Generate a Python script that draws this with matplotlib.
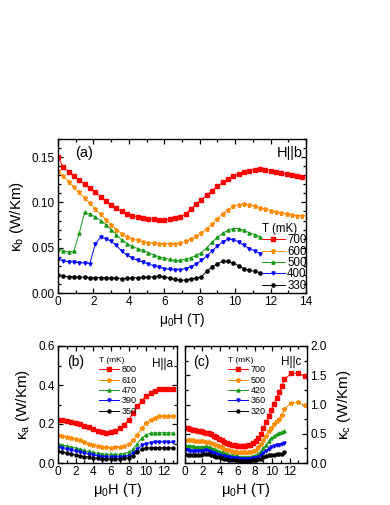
import matplotlib
matplotlib.use("Agg")
import matplotlib.pyplot as plt
from matplotlib.ticker import MultipleLocator

plt.rcParams['font.family'] = ['Liberation Sans', 'DejaVu Sans']
plt.rcParams['mathtext.fontset'] = 'custom'
plt.rcParams['mathtext.rm'] = 'Liberation Sans'
plt.rcParams['mathtext.it'] = 'Liberation Sans:italic'

# ---------------- data: panel (a)  H || b ----------------
Ha_long = [0.0, 0.3, 0.6, 0.9, 1.2, 1.5, 1.8, 2.1, 2.4, 2.7, 3.0, 3.3, 3.6, 3.9, 4.2, 4.5,
           4.8, 5.1, 5.4, 5.7, 6.0, 6.3, 6.6, 6.9, 7.2, 7.5, 7.8, 8.1, 8.4, 8.7, 9.0, 9.3,
           9.6, 9.9, 10.2, 10.5, 10.8, 11.1, 11.4, 11.7, 12.0, 12.3, 12.6, 12.9, 13.2, 13.5, 13.8]
Ha_short = Ha_long[:39]

ka_700 = [0.150, 0.139, 0.134, 0.129, 0.1245, 0.120, 0.1155, 0.111, 0.1065, 0.102, 0.0975,
          0.0935, 0.090, 0.0875, 0.0855, 0.084, 0.083, 0.082, 0.0813, 0.081, 0.081, 0.0815,
          0.0825, 0.084, 0.0875, 0.0925, 0.098, 0.103, 0.108, 0.113, 0.118, 0.122, 0.126,
          0.129, 0.1315, 0.1335, 0.135, 0.136, 0.1365, 0.136, 0.135, 0.134, 0.1325, 0.131,
          0.130, 0.129, 0.128]
ka_600 = [0.135, 0.129, 0.123, 0.117, 0.111, 0.105, 0.099, 0.093, 0.087, 0.081, 0.0755,
          0.070, 0.0655, 0.062, 0.0595, 0.058, 0.0565, 0.0555, 0.055, 0.0545, 0.054, 0.054,
          0.054, 0.055, 0.057, 0.0595, 0.0625, 0.0665, 0.071, 0.0765, 0.082, 0.0875, 0.092,
          0.0955, 0.0975, 0.098, 0.097, 0.0955, 0.094, 0.0925, 0.091, 0.089, 0.088, 0.087,
          0.086, 0.0855, 0.085]
ka_500 = [0.049, 0.0465, 0.0455, 0.046, 0.066, 0.089, 0.087, 0.084, 0.080, 0.0755, 0.070,
          0.0645, 0.0585, 0.0545, 0.0515, 0.049, 0.047, 0.0445, 0.042, 0.040, 0.0385, 0.037,
          0.036, 0.036, 0.0375, 0.039, 0.0415, 0.0445, 0.050, 0.056, 0.0615, 0.066, 0.0695,
          0.0712, 0.0712, 0.069, 0.0665, 0.0645, 0.062]
ka_400 = [0.0375, 0.0355, 0.0345, 0.034, 0.0335, 0.033, 0.0325, 0.054, 0.0615, 0.060, 0.057,
          0.0525, 0.046, 0.042, 0.0385, 0.036, 0.034, 0.032, 0.030, 0.0285, 0.027, 0.026,
          0.0255, 0.0255, 0.027, 0.029, 0.032, 0.036, 0.041, 0.0465, 0.052, 0.0565, 0.0595,
          0.0585, 0.0565, 0.0525, 0.049, 0.0465, 0.0435]
ka_330 = [0.0196, 0.0185, 0.018, 0.018, 0.0175, 0.0175, 0.017, 0.017, 0.017, 0.0168, 0.0165,
          0.0165, 0.016, 0.0162, 0.0168, 0.017, 0.0172, 0.0175, 0.018, 0.0188, 0.018, 0.0162,
          0.015, 0.014, 0.0143, 0.0155, 0.0165, 0.018, 0.024, 0.029, 0.032, 0.0352, 0.035,
          0.033, 0.030, 0.027, 0.025, 0.024, 0.0225]

# ---------------- data: panel (b)  H || a ----------------
Hb = [0.0, 0.5, 1.0, 1.5, 2.0, 2.5, 3.0, 3.5, 4.0, 4.5, 5.0, 5.5, 6.0, 6.5, 7.0, 7.5, 8.0,
      8.5, 9.0, 9.5, 10.0, 10.5, 11.0, 11.5, 12.0, 12.5, 13.0]
kb_800 = [0.222, 0.220, 0.216, 0.212, 0.207, 0.200, 0.192, 0.183, 0.174, 0.165, 0.158, 0.155,
          0.158, 0.166, 0.178, 0.195, 0.220, 0.255, 0.290, 0.320, 0.342, 0.358, 0.370, 0.377,
          0.380, 0.381, 0.380]
kb_610 = [0.145, 0.140, 0.135, 0.129, 0.123, 0.116, 0.108, 0.100, 0.093, 0.087, 0.083, 0.080,
          0.079, 0.080, 0.082, 0.087, 0.097, 0.116, 0.146, 0.178, 0.205, 0.222, 0.233, 0.239,
          0.241, 0.241, 0.240]
kb_470 = [0.097, 0.092, 0.087, 0.082, 0.077, 0.071, 0.065, 0.059, 0.054, 0.050, 0.047, 0.045,
          0.044, 0.044, 0.045, 0.048, 0.055, 0.070, 0.100, 0.128, 0.145, 0.152, 0.155, 0.155,
          0.155, 0.155, 0.154]
kb_390 = [0.080, 0.075, 0.070, 0.065, 0.060, 0.055, 0.050, 0.045, 0.040, 0.036, 0.033, 0.031,
          0.030, 0.030, 0.031, 0.033, 0.038, 0.050, 0.070, 0.090, 0.100, 0.105, 0.107, 0.107,
          0.107, 0.107, 0.106]
kb_350 = [0.060, 0.055, 0.050, 0.045, 0.041, 0.037, 0.033, 0.030, 0.027, 0.025, 0.023, 0.022,
          0.021, 0.021, 0.022, 0.024, 0.028, 0.038, 0.055, 0.070, 0.076, 0.078, 0.078, 0.078,
          0.078, 0.078, 0.077]

# ---------------- data: panel (c)  H || c ----------------
Hc_short = Ha_short
Hc_long = Ha_short + [12.2, 13.0, 13.8]
kc_700 = [0.60, 0.59, 0.58, 0.57, 0.56, 0.55, 0.54, 0.53, 0.52, 0.51, 0.49, 0.465, 0.44,
          0.415, 0.39, 0.365, 0.345, 0.325, 0.31, 0.30, 0.295, 0.29, 0.29, 0.295, 0.30, 0.315,
          0.34, 0.38, 0.43, 0.50, 0.59, 0.70, 0.81, 0.91, 1.01, 1.11, 1.21, 1.31, 1.43,
          1.53, 1.535, 1.48]
kc_500 = [0.40, 0.395, 0.39, 0.385, 0.38, 0.375, 0.37, 0.37, 0.365, 0.36, 0.345, 0.325, 0.305,
          0.285, 0.265, 0.245, 0.23, 0.215, 0.205, 0.195, 0.19, 0.185, 0.18, 0.18, 0.185, 0.19,
          0.205, 0.23, 0.27, 0.33, 0.40, 0.47, 0.54, 0.60, 0.66, 0.71, 0.76, 0.82, 0.92,
          1.03, 1.035, 0.985]
kc_420 = [0.30, 0.295, 0.29, 0.285, 0.28, 0.275, 0.275, 0.28, 0.285, 0.28, 0.26, 0.24, 0.22,
          0.20, 0.18, 0.165, 0.15, 0.14, 0.13, 0.12, 0.115, 0.11, 0.105, 0.105, 0.105, 0.11,
          0.12, 0.135, 0.16, 0.20, 0.25, 0.31, 0.37, 0.42, 0.46, 0.49, 0.515, 0.53, 0.54]
kc_360 = [0.22, 0.215, 0.21, 0.205, 0.20, 0.20, 0.205, 0.21, 0.215, 0.205, 0.19, 0.17, 0.155,
          0.14, 0.125, 0.115, 0.105, 0.095, 0.09, 0.085, 0.08, 0.075, 0.072, 0.07, 0.07, 0.072,
          0.078, 0.09, 0.105, 0.13, 0.165, 0.205, 0.24, 0.27, 0.29, 0.305, 0.315, 0.325, 0.335]
kc_320 = [0.15, 0.145, 0.14, 0.135, 0.135, 0.135, 0.14, 0.15, 0.16, 0.155, 0.14, 0.12, 0.105,
          0.095, 0.085, 0.075, 0.065, 0.058, 0.052, 0.048, 0.045, 0.042, 0.04, 0.04, 0.04,
          0.042, 0.046, 0.052, 0.06, 0.075, 0.095, 0.115, 0.13, 0.14, 0.145, 0.15, 0.155,
          0.16, 0.18]

labels_a = ['700', '600', '500', '400', '330']
labels_b = ['800', '610', '470', '390', '350']
labels_c = ['700', '500', '420', '360', '320']

colors = ['#ff0000', '#ff8c00', '#1a9a1a', '#0000ff', '#000000']
markers = ['s', '*', '^', 'v', 'o']

fig = plt.figure(figsize=(3.9, 5.05), dpi=100)
W, Hh = 390.0, 505.0
def box(l, t, r, b):
    return [l / W, 1 - b / Hh, (r - l) / W, (b - t) / Hh]

axA = fig.add_axes(box(58, 139, 306, 293))
axB = fig.add_axes(box(58, 346, 177, 463))
axC = fig.add_axes(box(185, 346, 307, 463))

def style(ax, fs=8.5):
    ax.tick_params(which='both', direction='in', top=True, right=True, labelsize=fs, width=0.9)
    ax.tick_params(which='major', length=3.5, pad=2.5)
    ax.tick_params(which='minor', length=2)
    for s in ax.spines.values():
        s.set_linewidth(1.0)

# panel (a)
seriesA = [(Ha_long, ka_700), (Ha_long, ka_600), (Ha_short, ka_500), (Ha_short, ka_400), (Ha_short, ka_330)]
for (x, y), c, m, lab in zip(seriesA, colors, markers, labels_a):
    ms = 3.6 if m == '*' else 2.3
    axA.plot(x, y, color=c, marker=m, ms=ms, lw=0.7, label=lab, mec=c)
axA.set_xlim(0, 14)
axA.set_ylim(0, 0.17)
axA.xaxis.set_major_locator(MultipleLocator(2))
axA.xaxis.set_minor_locator(MultipleLocator(1))
axA.yaxis.set_minor_locator(MultipleLocator(0.01))
axA.set_yticks([0, 0.05, 0.10, 0.15])
axA.set_yticklabels(['0.00', '0.05', '0.10', '0.15'])
style(axA)
axA.set_xlabel('μ$_\\mathregular{0}$H (T)', fontsize=10, labelpad=2)
axA.set_ylabel('κ$_\\mathregular{b}$ (W/Km)', fontsize=11, labelpad=4)
axA.text(0.07, 0.91, '(a)', transform=axA.transAxes, fontsize=10.5, va='center', ha='left')
axA.text(0.985, 0.91, 'H||b', transform=axA.transAxes, fontsize=10.5, va='center', ha='right')
axA.legend(title='T (mK)', loc='lower right', bbox_to_anchor=(1.035, -0.045), frameon=False,
           fontsize=8.3, title_fontsize=8.3, handlelength=2.0, handletextpad=0.2,
           labelspacing=-0.05, borderpad=0.2, alignment='left')

# panel (b)
for y, c, m, lab in zip([kb_800, kb_610, kb_470, kb_390, kb_350], colors, markers, labels_b):
    ms = 3.4 if m == '*' else 2.2
    axB.plot(Hb, y, color=c, marker=m, ms=ms, lw=0.7, label=lab, mec=c)
axB.set_xlim(0, 13.5)
axB.set_ylim(0, 0.6)
axB.set_xticks([0, 2, 4, 6, 8, 10, 12])
axB.xaxis.set_minor_locator(MultipleLocator(1))
axB.set_yticks([0, 0.2, 0.4, 0.6])
axB.set_yticklabels(['0.0', '0.2', '0.4', '0.6'])
axB.yaxis.set_minor_locator(MultipleLocator(0.1))
style(axB)
axB.set_xlabel('μ$_\\mathregular{0}$H (T)', fontsize=10.5, labelpad=2)
axB.set_ylabel('κ$_\\mathregular{a}$ (W/Km)', fontsize=11, labelpad=4)
axB.text(0.08, 0.86, '(b)', transform=axB.transAxes, fontsize=10, va='center', ha='left')
axB.text(0.97, 0.85, 'H||a', transform=axB.transAxes, fontsize=8.5, va='center', ha='right')
axB.legend(title='T (mK)', loc='upper left', bbox_to_anchor=(0.29, 0.96), frameon=False,
           fontsize=6.5, title_fontsize=6, handlelength=2.2, handletextpad=0.3,
           labelspacing=0.15, borderpad=0.2, alignment='left')

# panel (c)
seriesC = [(Hc_long, kc_700), (Hc_long, kc_500), (Hc_short, kc_420), (Hc_short, kc_360), (Hc_short, kc_320)]
for (x, y), c, m, lab in zip(seriesC, colors, markers, labels_c):
    ms = 3.4 if m == '*' else 2.2
    axC.plot(x, y, color=c, marker=m, ms=ms, lw=0.7, label=lab, mec=c)
axC.set_xlim(0, 14)
axC.set_ylim(0, 2.0)
axC.set_xticks([0, 2, 4, 6, 8, 10, 12])
axC.xaxis.set_minor_locator(MultipleLocator(1))
axC.set_yticks([0, 0.5, 1.0, 1.5, 2.0])
axC.set_yticklabels(['0.0', '0.5', '1.0', '1.5', '2.0'])
axC.yaxis.set_minor_locator(MultipleLocator(0.25))
style(axC)
axC.tick_params(axis='y', labelleft=False, labelright=True)
axC.yaxis.set_label_position('right')
axC.set_xlabel('μ$_\\mathregular{0}$H (T)', fontsize=10.5, labelpad=2)
axC.set_ylabel('κ$_\\mathregular{c}$ (W/Km)', fontsize=11, labelpad=6, rotation=90)
axC.text(0.07, 0.86, '(c)', transform=axC.transAxes, fontsize=10, va='center', ha='left')
axC.text(0.95, 0.86, 'H||c', transform=axC.transAxes, fontsize=8.5, va='center', ha='right')
axC.legend(title='T (mK)', loc='upper left', bbox_to_anchor=(0.3, 0.96), frameon=False,
           fontsize=6.5, title_fontsize=6, handlelength=2.2, handletextpad=0.3,
           labelspacing=0.15, borderpad=0.2, alignment='left')

fig.savefig('out.png', dpi=100)
